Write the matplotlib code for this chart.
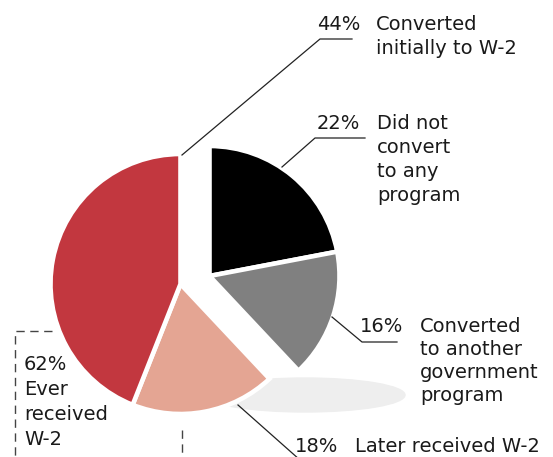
import matplotlib.pyplot as plt
from matplotlib.patches import Ellipse

# Shares of cases, clockwise from 12 o'clock
shares = [0.22, 0.16, 0.18, 0.44]
colors = ["#000000", "#808080", "#e4a593", "#c2373f"]
pct_labels = ["22%", "16%", "18%", "44%"]
desc_labels = [
    ["Did not", "convert", "to any", "program"],
    ["Converted", "to another", "government", "program"],
    ["Later received W-2"],
    ["Converted", "initially to W-2"],
]
total_label = ["62%", "Ever", "received", "W-2"]

W, H = 553, 457
fig = plt.figure(figsize=(W / 100, H / 100), dpi=100)
ax = fig.add_axes([0, 0, 1, 1])

def py(y):
    # pixel row -> data y (origin at bottom)
    return H - y

# soft shadow under the pie
ax.add_patch(Ellipse((305, py(395)), 200, 34, color="#eeeeee", zorder=0))

wp = dict(edgecolor="white", linewidth=3.3, zorder=2)
# right half (no W-2) and left half (W-2) pulled apart
ax.pie(shares[:2], colors=colors[:2], startangle=90, counterclock=False,
       normalize=False, center=(209.5, py(276)), radius=130, wedgeprops=wp)
ax.pie(shares[2:], colors=colors[2:],
       startangle=90 - 360 * sum(shares[:2]), counterclock=False,
       normalize=False, center=(180.5, py(284)), radius=130, wedgeprops=wp)

ax.set_xlim(0, W)
ax.set_ylim(0, H)
ax.set_aspect("equal")
ax.axis("off")

fs = 14
tc = "#1a1a1a"
lc = "#222222"

# leader lines: (slice point, elbow, end)
leaders = [
    [(282, 167), (315, 138), (365, 138)],
    [(332, 317), (362, 342), (397, 342)],
    [(238, 405), (300, 460), (300, 460)],
    [(182, 155), (320, 39), (352, 39)],
]
for pts in leaders:
    xs = [p[0] for p in pts]
    ys = [py(p[1]) for p in pts]
    ax.plot(xs, ys, color=lc, lw=0.9, zorder=3)

# percent and description text, placed by baseline of the first line
pct_x = [360, 403, 338, 360]
desc_x = [377, 420, 355, 376]
base_y = [129, 332, 452, 30]
step = [24, 23, 24, 24]
for i in range(4):
    ax.text(pct_x[i], py(base_y[i]), pct_labels[i], ha="right",
            va="baseline", fontsize=fs, color=tc)
    for j, line in enumerate(desc_labels[i]):
        ax.text(desc_x[i], py(base_y[i] + j * step[i]), line, ha="left",
                va="baseline", fontsize=fs, color=tc)

# dashed bracket for the combined W-2 share
ax.plot([52, 15, 15], [py(331), py(331), py(457)], color="#444444", lw=1,
        ls=(0, (6, 4)), zorder=1)
ax.plot([182, 182], [py(430), py(457)], color="#444444", lw=1,
        ls=(0, (6, 4)), zorder=1)
for j, line in enumerate(total_label):
    ax.text(24, py(370 + j * 25), line, ha="left", va="baseline",
            fontsize=fs, color=tc)

fig.savefig("out.png", dpi=100)
